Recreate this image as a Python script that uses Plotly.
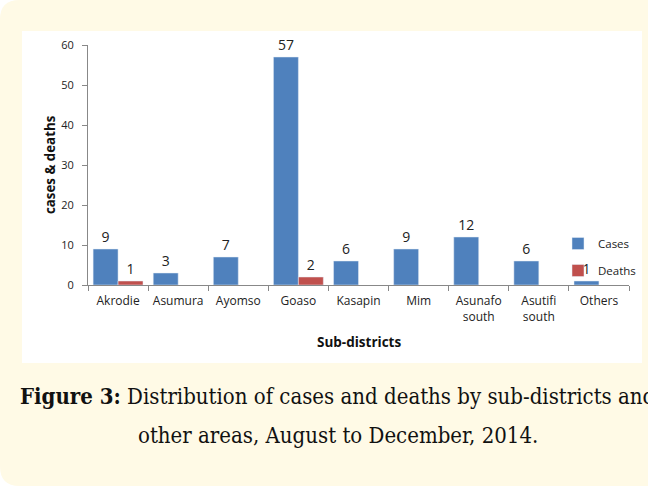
import plotly.graph_objects as go

W, H = 648, 486

categories = ["Akrodie", "Asumura", "Ayomso", "Goaso", "Kasapin", "Mim",
              "Asunafo<br>south", "Asutifi<br>south", "Others"]
cases = [9, 3, 7, 57, 6, 9, 12, 6, 1]
deaths = [1, None, None, 2, None, None, None, None, None]
y_ticks = [0, 10, 20, 30, 40, 50, 60]

BLUE = "#4f81bd"
RED = "#c0504d"
CREAM = "#fffae6"
FONT = "Open Sans, Liberation Sans, sans-serif"
SERIF = "DejaVu Serif Condensed, Liberation Serif, serif"

def px_x(v):
    return v / W

def px_y(v):
    return 1 - v / H

fig = go.Figure()
fig.add_trace(go.Bar(
    x=categories, y=cases, name="Cases", marker_color=BLUE,
    text=[str(v) for v in cases], textposition="outside", cliponaxis=False,
    textfont=dict(size=14, color="#222", family=FONT),
    legendgroup="a",
))
fig.add_trace(go.Bar(
    x=categories, y=deaths, name="Deaths", marker_color=RED,
    text=[("" if v is None else str(v)) for v in deaths], textposition="outside",
    cliponaxis=False, textfont=dict(size=14, color="#222", family=FONT),
    legendgroup="b",
))

shapes = [
    dict(type="path", xref="paper", yref="paper", layer="below",
         path="M 0,0.04 Q 0,0 0.03,0 L 1,0 L 1,1 L 0.03,1 Q 0,1 0,0.96 Z",
         fillcolor=CREAM, line=dict(width=0)),
    dict(type="rect", xref="paper", yref="paper", layer="below",
         x0=px_x(22), x1=px_x(642), y0=px_y(363), y1=px_y(31),
         fillcolor="white", line=dict(width=0)),
]

annotations = [
    dict(text="<b>cases & deaths</b>", xref="paper", yref="paper",
         x=px_x(50), y=px_y(165), textangle=-90, showarrow=False,
         xanchor="center", yanchor="middle",
         font=dict(size=13.3, color="#111", family=FONT)),
    dict(text="<b>Sub-districts</b>", xref="paper", yref="paper",
         x=px_x(359), y=px_y(342), showarrow=False,
         xanchor="center", yanchor="middle",
         font=dict(size=13.5, color="#111", family=FONT)),
    dict(text="<b>Figure 3:</b> Distribution of cases and deaths by sub-districts and",
         xref="paper", yref="paper", x=px_x(337.5), y=px_y(396), showarrow=False,
         xanchor="center", yanchor="middle",
         font=dict(size=22, color="#111", family=SERIF)),
    dict(text="other areas, August to December, 2014.",
         xref="paper", yref="paper", x=px_x(337.5), y=px_y(435), showarrow=False,
         xanchor="center", yanchor="middle",
         font=dict(size=22, color="#111", family=SERIF)),
]

fig.update_layout(
    width=W, height=H, autosize=False,
    margin=dict(l=0, r=0, t=0, b=0, pad=0, autoexpand=False),
    paper_bgcolor="white", plot_bgcolor="rgba(0,0,0,0)",
    barmode="group", bargap=0.17, bargroupgap=0,
    font=dict(family=FONT, size=11, color="#222"),
    xaxis=dict(domain=[px_x(88), px_x(629)], showline=True, linecolor="#888",
               ticks="outside", tickson="boundaries", ticklen=5, tickcolor="#888",
               showgrid=False, anchor="y", tickfont=dict(size=12), automargin=False,
               ticklabelstandoff=5),
    yaxis=dict(domain=[px_y(285), px_y(45)], range=[0, 60], tickvals=y_ticks,
               showline=True, linecolor="#888", ticks="outside", ticklen=5,
               tickcolor="#888", showgrid=False, zeroline=False,
               tickfont=dict(size=11), ticklabelstandoff=6, automargin=False),
    legend=dict(x=px_x(558), y=px_y(229), xanchor="left", yanchor="top",
                bgcolor="rgba(0,0,0,0)", font=dict(size=11.5, color="#222"),
                tracegroupgap=8, itemwidth=30),
    shapes=shapes, annotations=annotations,
)

fig.write_html("out.html",
               config={"displayModeBar": False, "responsive": False},
               post_script="document.body.style.margin='0';document.body.style.overflow='hidden';")
